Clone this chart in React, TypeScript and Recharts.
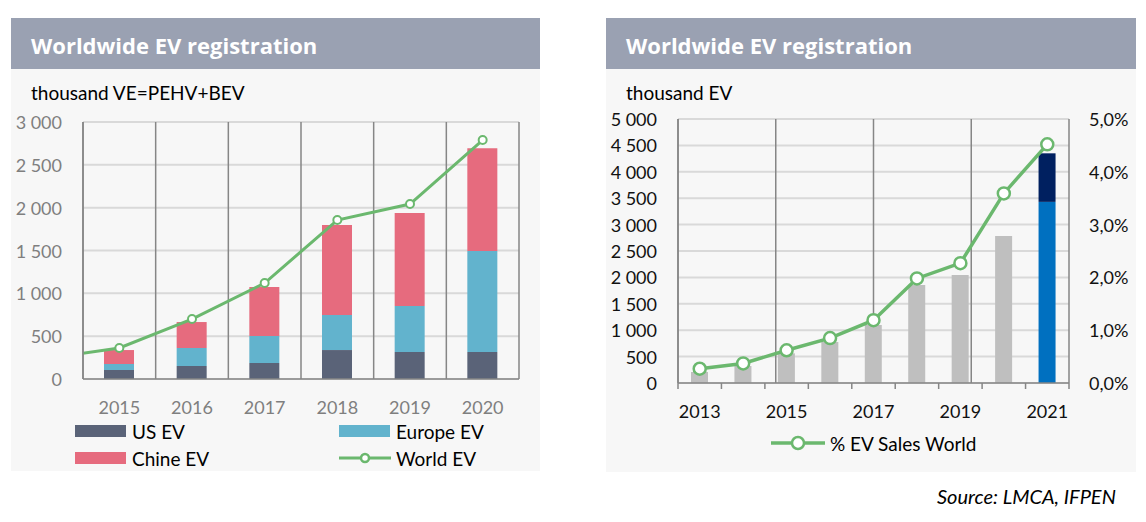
import { ComposedChart, Bar, Line, XAxis, YAxis, CartesianGrid } from 'recharts';

// Left panel: registrations by region (thousand vehicles)
const leftYears = [2014, 2015, 2016, 2017, 2018, 2019, 2020];
const usEV = [null, 105, 152, 187, 338, 315, 315];
const europeEV = [null, 70, 210, 315, 409, 537, 1179];
const chinaEV = [null, 163, 303, 571, 1050, 1085, 1201];
const worldEV = [241, 362, 700, 1120, 1855, 2042, 2789];
const leftYTicks = [0, 500, 1000, 1500, 2000, 2500, 3000];
const leftXTicks = [2015, 2016, 2017, 2018, 2019, 2020];
const leftBounds = [2014.5, 2015.5, 2016.5, 2017.5, 2018.5, 2019.5, 2020.5];

// Right panel: world EV sales and share
const rightYears = [2013, 2014, 2015, 2016, 2017, 2018, 2019, 2020, 2021];
const evSales = [208, 322, 562, 776, 1100, 1856, 2045, 2784, null];
const evSales2021 = [null, null, null, null, null, null, null, null, 3430];
const evSales2021Extra = [null, null, null, null, null, null, null, null, 920];
const evSharePct = [0.27, 0.37, 0.62, 0.85, 1.19, 1.98, 2.27, 3.59, 4.52];
const rightYTicks = [0, 500, 1000, 1500, 2000, 2500, 3000, 3500, 4000, 4500, 5000];
const rightPctTicks = [0, 1, 2, 3, 4, 5];
const rightXLabels = [2013, 2015, 2017, 2019, 2021];
const rightBounds = [2012.5, 2013.5, 2014.5, 2015.5, 2016.5, 2017.5, 2018.5, 2019.5, 2020.5, 2021.5];
const rightGridBounds = [2012.5, 2014.5, 2016.5, 2018.5, 2020.5];

const leftData = leftYears.map((year, i) => ({
  year,
  us: usEV[i],
  europe: europeEV[i],
  china: chinaEV[i],
  world: worldEV[i],
}));

const rightData = rightYears.map((year, i) => ({
  year,
  sales: evSales[i],
  sales2021: evSales2021[i],
  sales2021Extra: evSales2021Extra[i],
  pct: evSharePct[i],
}));

const FONT = 'Lato, "Open Sans", sans-serif';
const GREEN = '#6BB86E';
const AXIS = '#868686';
const GRID = '#D9D9D9';
const HEADER = '#9AA1B2';
const CARD = '#F7F7F7';

const thousands = (v: number) => String(v).replace(/\B(?=(\d{3})+(?!\d))/g, ' ');

const boundsGen = (bounds: number[]) => (props: any) => {
  const { xAxis, offset } = props;
  if (xAxis && typeof xAxis.scale === 'function') {
    return bounds.map((b) => xAxis.scale(b));
  }
  const lo = bounds[0];
  const hi = bounds[bounds.length - 1];
  return bounds.map((b) => offset.left + ((b - lo) / (hi - lo)) * offset.width);
};

const LeftYTick = ({ x, y, payload }: any) => (
  <text x={x - 21} y={y} textAnchor="end" dominantBaseline="central" fill="#7F7F7F" fontSize={18} fontFamily={FONT}>
    {thousands(payload.value)}
  </text>
);

const LeftXTick = ({ x, y, payload }: any) => (
  <text x={x} y={y + 28} textAnchor="middle" dominantBaseline="central" fill="#7F7F7F" fontSize={18} fontFamily={FONT}>
    {payload.value}
  </text>
);

const RightYTick = ({ x, y, payload }: any) => (
  <text x={x - 21} y={y} textAnchor="end" dominantBaseline="central" fill="#111" fontSize={18} fontFamily={FONT}>
    {thousands(payload.value)}
  </text>
);

const PctTick = ({ x, y, payload }: any) => (
  <text x={x + 20} y={y} textAnchor="start" dominantBaseline="central" fill="#111" fontSize={18} fontFamily={FONT}>
    {payload.value.toFixed(1).replace('.', ',') + '%'}
  </text>
);

const RightXTick = ({ x, y, payload }: any) => {
  if (!Number.isInteger(payload.value)) {
    return <line x1={x} x2={x} y1={y} y2={y + 6} stroke={AXIS} strokeWidth={1.5} />;
  }
  return (
    <text x={x} y={y + 28} textAnchor="middle" dominantBaseline="central" fill="#111" fontSize={18} fontFamily={FONT}>
      {payload.value}
    </text>
  );
};

const Header = ({ left, width }: { left: number; width: number }) => (
  <div
    style={{
      position: 'absolute',
      left,
      top: 18,
      width,
      height: 51,
      background: HEADER,
      color: '#fff',
      fontFamily: '"Open Sans", sans-serif',
      fontWeight: 700,
      fontSize: 22,
      lineHeight: '51px',
      paddingLeft: 20,
      boxSizing: 'border-box',
      paddingTop: 2,
    }}
  >
    Worldwide EV registration
  </div>
);

const Swatch = ({ x, y, color, label }: any) => (
  <div style={{ position: 'absolute', left: x, top: y - 12, height: 24, display: 'flex', alignItems: 'center' }}>
    <div style={{ width: 51, height: 12, background: color }} />
    <span style={{ marginLeft: 6, fontFamily: FONT, fontSize: 19, color: '#000' }}>{label}</span>
  </div>
);

const LineSwatch = ({ x, y, label, w, r, sw }: any) => (
  <div style={{ position: 'absolute', left: x, top: y - 12, height: 24, display: 'flex', alignItems: 'center' }}>
    <svg width={w} height={16}>
      <line x1={0} x2={w} y1={8} y2={8} stroke={GREEN} strokeWidth={sw} />
      <circle cx={w / 2} cy={8} r={r} fill="#fff" stroke={GREEN} strokeWidth={2.5} />
    </svg>
    <span style={{ marginLeft: 5, fontFamily: FONT, fontSize: 19, color: '#000' }}>{label}</span>
  </div>
);

export default function App() {
  return (
    <div style={{ position: 'absolute', left: 0, top: 0, width: 1146, height: 522, background: '#fff', overflow: 'hidden' }}>
      {/* left card */}
      <div style={{ position: 'absolute', left: 11, top: 69, width: 529, height: 402, background: CARD }} />
      <Header left={11} width={529} />
      <div style={{ position: 'absolute', left: 31, top: 81, fontFamily: FONT, fontSize: 19, color: '#000' }}>
        thousand VE=PEHV+BEV
      </div>
      <div style={{ position: 'absolute', left: 11, top: 69 }}>
        <ComposedChart width={529} height={360} data={leftData} margin={{ top: 53, right: 21, bottom: 20, left: 12 }}>
          <CartesianGrid vertical={false} stroke={GRID} strokeWidth={2} />
          <CartesianGrid horizontal={false} stroke={AXIS} strokeWidth={1.5} verticalCoordinatesGenerator={boundsGen(leftBounds)} />
          <XAxis
            dataKey="year"
            type="number"
            domain={[2014.5, 2020.5]}
            allowDataOverflow
            ticks={leftXTicks}
            interval={0}
            height={30}
            tickLine={false}
            tickSize={0}
            tickMargin={0}
            axisLine={{ stroke: AXIS, strokeWidth: 1.5 }}
            tick={<LeftXTick />}
          />
          <YAxis
            domain={[0, 3000]}
            ticks={leftYTicks}
            interval={0}
            width={60}
            tickLine={false}
            tickSize={0}
            tickMargin={0}
            axisLine={{ stroke: AXIS, strokeWidth: 1.5 }}
            tick={<LeftYTick />}
          />
          <Bar dataKey="us" stackId="a" fill="#5A6378" barSize={30} isAnimationActive={false} />
          <Bar dataKey="europe" stackId="a" fill="#62B3CD" barSize={30} isAnimationActive={false} />
          <Bar dataKey="china" stackId="a" fill="#E66B7E" barSize={30} isAnimationActive={false} />
          <Line
            dataKey="world"
            type="linear"
            stroke={GREEN}
            strokeWidth={3}
            dot={{ r: 4, fill: '#fff', stroke: GREEN, strokeWidth: 2 }}
            activeDot={false}
            isAnimationActive={false}
          />
        </ComposedChart>
      </div>
      <Swatch x={75} y={431} color="#5A6378" label="US EV" />
      <Swatch x={339} y={431} color="#62B3CD" label="Europe EV" />
      <Swatch x={75} y={458} color="#E66B7E" label="Chine EV" />
      <LineSwatch x={339} y={458} w={52} r={4} sw={3} label="World EV" />

      {/* right card */}
      <div style={{ position: 'absolute', left: 606, top: 69, width: 530, height: 403, background: CARD }} />
      <Header left={606} width={530} />
      <div style={{ position: 'absolute', left: 626, top: 81, fontFamily: FONT, fontSize: 19, color: '#000' }}>
        thousand EV
      </div>
      <div style={{ position: 'absolute', left: 606, top: 69 }}>
        <ComposedChart width={530} height={360} data={rightData} margin={{ top: 50, right: 17, bottom: 16, left: 12 }}>
          <CartesianGrid vertical={false} yAxisId="left" stroke={GRID} strokeWidth={2} />
          <CartesianGrid horizontal={false} yAxisId="left" stroke={AXIS} strokeWidth={1.5} verticalCoordinatesGenerator={boundsGen(rightGridBounds)} />
          <XAxis
            dataKey="year"
            type="number"
            domain={[2012.5, 2021.5]}
            ticks={[...rightBounds, ...rightXLabels].sort((a, b) => a - b)}
            interval={0}
            height={30}
            tickLine={false}
            tickSize={0}
            tickMargin={0}
            axisLine={{ stroke: AXIS, strokeWidth: 1.5 }}
            tick={<RightXTick />}
          />
          <YAxis
            yAxisId="left"
            domain={[0, 5000]}
            ticks={rightYTicks}
            interval={0}
            width={60}
            tickLine={false}
            tickSize={0}
            tickMargin={0}
            axisLine={{ stroke: AXIS, strokeWidth: 1.5 }}
            tick={<RightYTick />}
          />
          <YAxis
            yAxisId="right"
            orientation="right"
            domain={[0, 5]}
            ticks={rightPctTicks}
            interval={0}
            width={50}
            tickLine={false}
            tickSize={0}
            tickMargin={0}
            axisLine={false}
            tick={<PctTick />}
          />
          <Bar yAxisId="left" dataKey="sales" stackId="s" fill="#BFBFBF" barSize={17} isAnimationActive={false} />
          <Bar yAxisId="left" dataKey="sales2021" stackId="s" fill="#0070C0" barSize={17} isAnimationActive={false} />
          <Bar yAxisId="left" dataKey="sales2021Extra" stackId="s" fill="#002060" barSize={17} isAnimationActive={false} />
          <Line
            yAxisId="right"
            dataKey="pct"
            type="linear"
            stroke={GREEN}
            strokeWidth={3.5}
            dot={{ r: 6, fill: '#fff', stroke: GREEN, strokeWidth: 2.5 }}
            activeDot={false}
            isAnimationActive={false}
          />
        </ComposedChart>
      </div>
      <LineSwatch x={771} y={443} w={54} r={6} sw={3.5} label="% EV Sales World" />

      <div
        style={{
          position: 'absolute',
          left: 937,
          top: 484,
          fontFamily: FONT,
          fontStyle: 'italic',
          fontSize: 20,
          color: '#000',
        }}
      >
        Source: LMCA, IFPEN
      </div>
    </div>
  );
}
